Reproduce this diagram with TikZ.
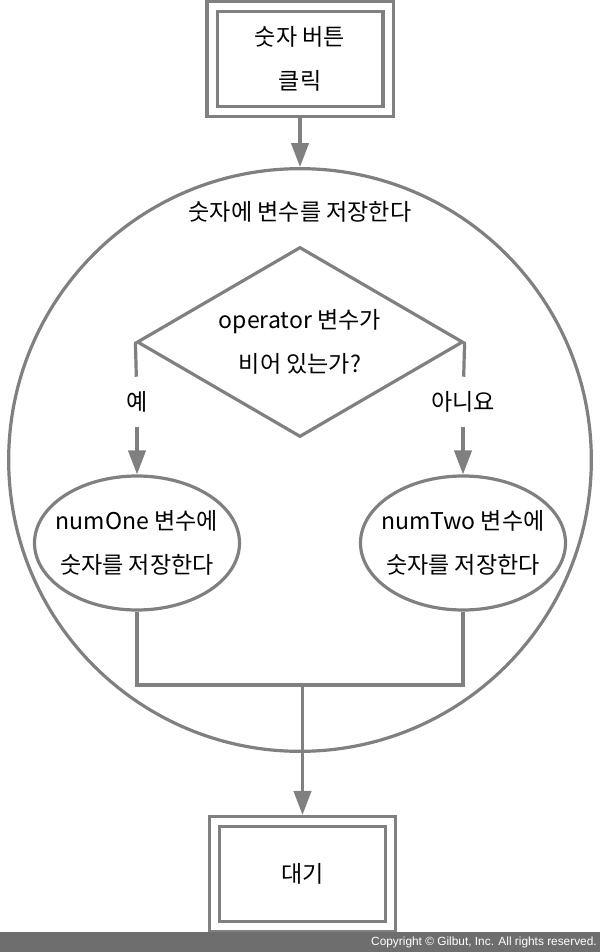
\documentclass[tikz,border=0pt]{standalone}
\usepackage{fontspec}
\setmainfont{Noto Sans CJK KR}
\newfontfamily\copyfont{Liberation Sans}
\usepackage{tikz}
\usetikzlibrary{arrows.meta,positioning,shapes,calc}
\definecolor{flowgray}{HTML}{808080}
\definecolor{bargray}{HTML}{6E6E6E}

\begin{document}
\begin{tikzpicture}[x=0.75pt, y=-0.75pt,
  every node/.style={font=\fontsize{17.3pt}{33pt}\selectfont, align=center},
  flowline/.style={draw=flowgray, line width=2.4pt},
  flowarrow/.style={flowline, -{Triangle[width=13pt,length=18pt]}},
  endbox/.style={draw=flowgray, line width=2.4pt, double=white, double distance=5.25pt,
    outer sep=5.1pt, minimum width=132pt, minimum height=78.4pt, inner sep=0pt},
  storebox/.style={ellipse, draw=flowgray, line width=2.4pt, minimum width=153.75pt,
    minimum height=100.5pt, inner xsep=-8pt, inner ysep=0pt},
  answer/.style={minimum height=37.5pt, inner sep=0pt}
]
\useasboundingbox (0,0) rectangle (600,952);

% Start and end
\node[endbox] (click) at (300,59) {숫자 버튼\\클릭};
\node[endbox] (wait) at (302.5,874) {대기};

% Store block
\node[circle, draw=flowgray, line width=2.4pt, minimum size=437pt, inner sep=0pt] (store) at (300,460) {};
\node (title) at (300,212) {숫자에 변수를 저장한다};

% Decision
\node[diamond, draw=flowgray, line width=2.4pt, aspect=1.7, minimum width=244.5pt,
  minimum height=142.5pt, inner sep=0pt] (empty) at (300,342) {operator 변수가\\비어 있는가?};
\node[answer] (yes) at (137,402) {예};
\node[answer] (no) at (463,402) {아니요};
\node[storebox] (one) at (137,543) {numOne 변수에\\숫자를 저장한다};
\node[storebox] (two) at (463,543) {numTwo 변수에\\숫자를 저장한다};

% Connectors
\draw[flowarrow] (click) -- (store.north);
\draw[flowline] (empty.west) -- (yes);
\draw[flowarrow] (yes) -- (one.north);
\draw[flowline] (empty.east) -- (no);
\draw[flowarrow] (no) -- (two.north);
\coordinate (join) at (302.5,685);
\draw[flowline] (one.south) |- (join) -| (two.south);
\draw[flowarrow] (join) -- (wait.north);

% Copyright bar
\fill[bargray] (0,932) rectangle (600,952);
\node[font=\copyfont\fontsize{8.9pt}{10pt}\selectfont, text=white, anchor=east, inner sep=0pt] (copy) at (597,942) {Copyright © Gilbut, Inc. All rights reserved.};

\end{tikzpicture}
\end{document}
